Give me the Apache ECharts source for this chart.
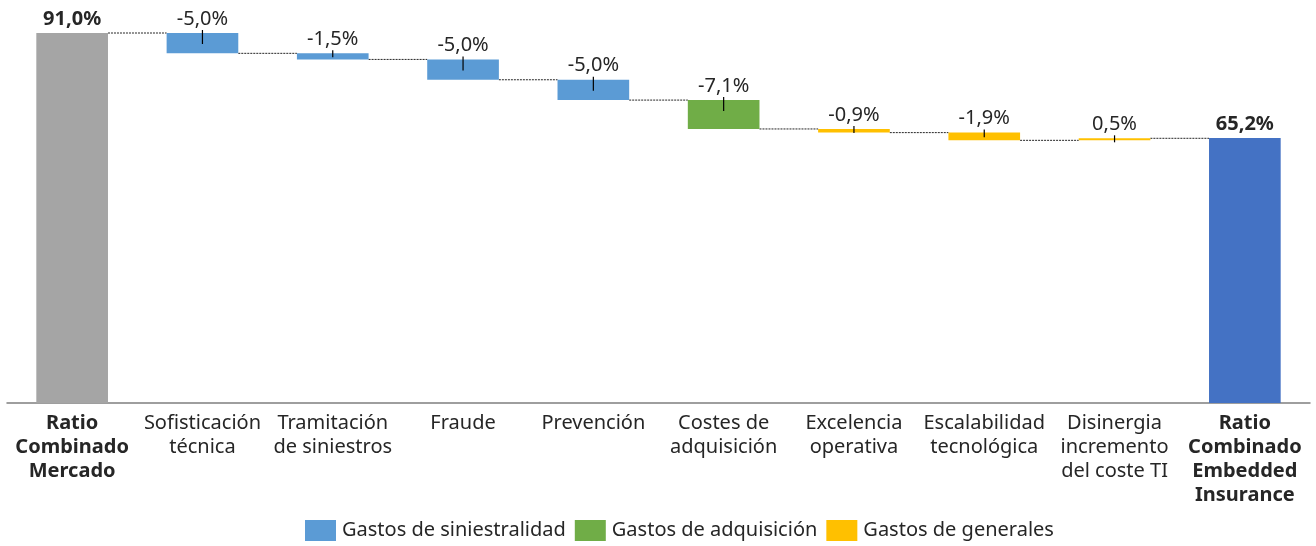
<!DOCTYPE html>
<html>
<head>
<meta charset="utf-8">
<script src="https://cdn.jsdelivr.net/npm/echarts@6/dist/echarts.min.js"></script>
<style>
  html, body { margin: 0; padding: 0; background: #fff; }
  #main { width: 1316px; height: 546px; }
</style>
</head>
<body>
<div id="main"></div>
<script>
// categories (x axis)
var categories = [
  'Ratio\nCombinado\nMercado',
  'Sofisticación\ntécnica',
  'Tramitación\nde siniestros',
  'Fraude',
  'Prevención',
  'Costes de\nadquisición',
  'Excelencia\noperativa',
  'Escalabilidad\ntecnológica',
  'Disinergia\nincremento\ndel coste TI',
  'Ratio\nCombinado\nEmbedded\nInsurance'
];
var startValue = 91.0;
var endValue = 65.2;
// steps between the two totals
var deltas = [-5.0, -1.5, -5.0, -5.0, -7.1, -0.9, -1.9, 0.5];
var groups = ['sin', 'sin', 'sin', 'sin', 'adq', 'gen', 'gen', 'gen'];
var groupNames = {
  sin: 'Gastos de siniestralidad',
  adq: 'Gastos de adquisición',
  gen: 'Gastos de generales'
};
var colors = {
  sin: '#5B9BD5',
  adq: '#70AD47',
  gen: '#FFC000',
  start: '#A5A5A5',
  end: '#4472C4'
};

var n = categories.length;
var round1 = function (v) { return Math.round(v * 10) / 10; };
var fmt = function (v) { return v.toFixed(1).replace('.', ',') + '%'; };

// build floating bars
var base = [0];
var totals = [{ value: startValue, itemStyle: { color: colors.start } }];
var bySeries = { sin: ['-'], adq: ['-'], gen: ['-'] };
var levels = [startValue];   // level after each bar
var ticks = [];
var cum = startValue;
deltas.forEach(function (d, k) {
  var prev = cum;
  cum = round1(cum + d);
  var lo = Math.min(prev, cum), hi = Math.max(prev, cum);
  base.push(lo);
  totals.push('-');
  ['sin', 'adq', 'gen'].forEach(function (g) {
    bySeries[g].push(groups[k] === g ? round1(hi - lo) : '-');
  });
  levels.push(cum);
  ticks.push([k + 1, hi, round1(hi - lo)]);
});
base.push(0);
totals.push({ value: endValue, itemStyle: { color: colors.end } });
['sin', 'adq', 'gen'].forEach(function (g) { bySeries[g].push('-'); });

var connectors = [];
for (var i = 0; i < n - 1; i++) connectors.push([i, levels[i]]);

var FONT = '"Noto Sans", sans-serif';
var FS = 20;
var TXT = '#262626';
var BAR_W = 0.55;

var deltaLabel = {
  show: true,
  position: 'top',
  distance: 4,
  fontFamily: FONT,
  fontSize: FS,
  color: TXT,
  formatter: function (p) { return fmt(deltas[p.dataIndex - 1]); }
};

function groupSeries(g) {
  return {
    name: groupNames[g],
    type: 'bar',
    stack: 'w',
    barWidth: (BAR_W * 100) + '%',
    itemStyle: { color: colors[g] },
    label: deltaLabel,
    data: bySeries[g]
  };
}

var chart = echarts.init(document.getElementById('main'));
chart.setOption({
  animation: false,
  grid: { left: 7, right: 6, top: 33, bottom: 143 },
  legend: {
    data: [groupNames.sin, groupNames.adq, groupNames.gen],
    bottom: 0,
    left: 300,
    icon: 'rect',
    itemWidth: 31,
    itemHeight: 21,
    itemGap: 9,
    textStyle: { fontFamily: FONT, fontSize: FS, color: TXT, padding: [0, 0, 0, 1] }
  },
  xAxis: {
    type: 'category',
    data: categories,
    axisTick: { show: false },
    axisLine: { lineStyle: { color: '#7f7f7f', width: 1.5 } },
    axisLabel: {
      interval: 0,
      margin: 8,
      fontFamily: FONT,
      fontSize: FS,
      lineHeight: 24,
      color: TXT,
      formatter: function (v, idx) {
        if (idx === 0 || idx === n - 1) {
          return v.split('\n').map(function (l) { return '{b|' + l + '}'; }).join('\n');
        }
        return v;
      },
      rich: {
        b: { fontWeight: 'bold', fontFamily: FONT, fontSize: FS, lineHeight: 24, color: TXT }
      }
    }
  },
  yAxis: {
    type: 'value',
    min: 0,
    max: 'dataMax',
    show: false,
    splitLine: { show: false }
  },
  series: [
    {
      name: 'base',
      type: 'bar',
      stack: 'w',
      barWidth: (BAR_W * 100) + '%',
      silent: true,
      itemStyle: { color: 'transparent' },
      data: base
    },
    {
      name: 'total',
      type: 'bar',
      stack: 'w',
      barWidth: (BAR_W * 100) + '%',
      label: {
        show: true,
        position: 'top',
        distance: 4,
        fontFamily: FONT,
        fontSize: FS,
        fontWeight: 'bold',
        color: TXT,
        formatter: function (p) { return fmt(p.value); }
      },
      data: totals
    },
    groupSeries('sin'),
    groupSeries('adq'),
    groupSeries('gen'),
    {
      name: 'connectors',
      type: 'custom',
      silent: true,
      z: 1,
      renderItem: function (params, api) {
        var p = api.coord([api.value(0), api.value(1)]);
        var band = api.size([1, 0])[0];
        var half = band * BAR_W / 2;
        return {
          type: 'line',
          shape: { x1: p[0] + half, y1: p[1], x2: p[0] + band - half, y2: p[1] },
          style: { stroke: '#262626', lineWidth: 1, lineDash: [2, 1] }
        };
      },
      data: connectors
    },
    {
      name: 'ticks',
      type: 'custom',
      silent: true,
      z: 5,
      renderItem: function (params, api) {
        var p = api.coord([api.value(0), api.value(1)]);
        var h = api.size([0, api.value(2)])[1];
        var down = Math.max(4, Math.min(11, h * 0.6));
        return {
          type: 'line',
          shape: { x1: p[0], y1: p[1] - 3, x2: p[0], y2: p[1] + down },
          style: { stroke: '#000', lineWidth: 1.2 }
        };
      },
      data: ticks
    }
  ]
});
</script>
</body>
</html>
